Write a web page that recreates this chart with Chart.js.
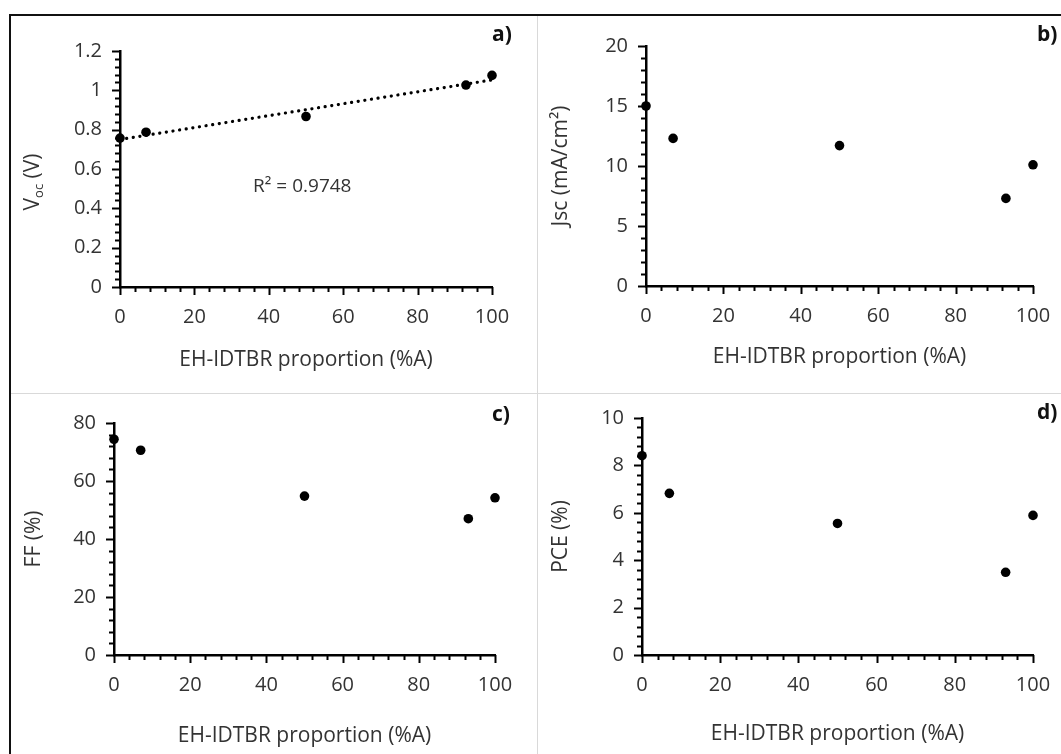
<!DOCTYPE html>
<html>
<head>
<meta charset="utf-8">
<script src="https://cdn.jsdelivr.net/npm/chart.js@4.4.1/dist/chart.umd.min.js"></script>
<style>
  body { margin: 0; background: #fff; }
  #fig { position: relative; width: 1061px; height: 754px; overflow: hidden; background: #fff; font-family: "Open Sans", sans-serif; }
  #fig canvas { position: absolute; }
  .line { position: absolute; }
  .tag { position: absolute; font-weight: bold; font-size: 21px; color: #111; }
</style>
</head>
<body>
<div id="fig">
  <div class="line" style="left:9px;top:14px;width:1052px;height:2px;background:#111"></div>
  <div class="line" style="left:9px;top:14px;width:2px;height:740px;background:#111"></div>
  <div class="line" style="left:537px;top:16px;width:1px;height:738px;background:#d9d9d9"></div>
  <div class="line" style="left:11px;top:393px;width:1050px;height:1px;background:#d9d9d9"></div>
  <canvas id="pa" width="526" height="377" style="left:11px;top:16px"></canvas>
  <canvas id="pb" width="523" height="377" style="left:538px;top:16px"></canvas>
  <canvas id="pc" width="526" height="360" style="left:11px;top:394px"></canvas>
  <canvas id="pd" width="523" height="360" style="left:538px;top:394px"></canvas>
  <div class="tag" style="left:492px;top:19px">a)</div>
  <div class="tag" style="left:1037px;top:19px">b)</div>
  <div class="tag" style="left:492px;top:399px">c)</div>
  <div class="tag" style="left:1037px;top:397px">d)</div>
</div>
<script>
// EH-IDTBR proportion (%A)
const proportion = [0, 7, 50, 93, 100];
const voc = [0.757, 0.787, 0.867, 1.027, 1.076];
const jsc = [15.0, 12.3, 11.7, 7.3, 10.1];
const ff = [74.4, 70.6, 54.8, 47.0, 54.2];
const pce = [8.41, 6.82, 5.55, 3.49, 5.89];
// linear trend line for Voc at x = 0 and x = 100
const vocTrendX = [0, 100];
const vocTrendY = [0.75, 1.053];
const vocR2 = 'R² = 0.9748';
const xTitle = 'EH-IDTBR proportion (%A)';

Chart.defaults.font.family = '"Open Sans", sans-serif';
Chart.defaults.color = '#333';

function isMajor(v, step) {
  return Math.abs(v / step - Math.round(v / step)) < 1e-6;
}

// Excel style tick marks: long for major, short for minor, both outward
const tickMarks = {
  id: 'tickMarks',
  afterDraw(chart, args, opts) {
    const ctx = chart.ctx;
    ctx.save();
    ctx.strokeStyle = '#000';
    ctx.lineWidth = 2;
    ['x', 'y'].forEach(id => {
      const s = chart.scales[id];
      const major = opts[id];
      s.ticks.forEach(t => {
        const p = Math.round(s.getPixelForValue(t.value)) + 0.5;
        const len = isMajor(t.value, major) ? 8 : 5;
        ctx.beginPath();
        if (id === 'x') { ctx.moveTo(p, s.top); ctx.lineTo(p, s.top + len); }
        else { ctx.moveTo(s.right, p); ctx.lineTo(s.right - len, p); }
        ctx.stroke();
      });
    });
    ctx.restore();
  }
};

// extra text: R² note and the subscripted V_oc title
const extraText = {
  id: 'extraText',
  afterDraw(chart, args, opts) {
    const ctx = chart.ctx;
    ctx.save();
    ctx.fillStyle = '#333';
    if (opts.note) {
      const x = chart.scales.x.getPixelForValue(opts.note.x);
      const y = chart.scales.y.getPixelForValue(opts.note.y);
      ctx.font = '19px "Open Sans", sans-serif';
      ctx.textAlign = 'center';
      ctx.textBaseline = 'middle';
      ctx.fillText(opts.note.text, x, y);
    }
    if (opts.vocTitle) {
      const cy = (chart.chartArea.top + chart.chartArea.bottom) / 2 + 13;
      ctx.translate(22, cy);
      ctx.rotate(-Math.PI / 2);
      ctx.textBaseline = 'middle';
      ctx.textAlign = 'left';
      const big = '21px "Open Sans", sans-serif';
      const small = '13px "Open Sans", sans-serif';
      ctx.font = big;
      const w1 = ctx.measureText('V').width;
      ctx.font = small;
      const w2 = ctx.measureText('oc').width;
      ctx.font = big;
      const w3 = ctx.measureText(' (V)').width;
      let x = -(w1 + w2 + w3) / 2;
      ctx.fillText('V', x, 0); x += w1;
      ctx.font = small;
      ctx.fillText('oc', x, 6); x += w2;
      ctx.font = big;
      ctx.fillText(' (V)', x, 0);
    }
    ctx.restore();
  }
};

function makePanel(id, ys, cfg) {
  const datasets = [{
    type: 'scatter',
    data: proportion.map((x, i) => ({ x: x, y: ys[i] })),
    backgroundColor: '#000',
    borderWidth: 0,
    pointRadius: 4.8,
    clip: false,
    order: 1
  }];
  if (cfg.trend) {
    datasets.push({
      type: 'line',
      data: cfg.trend.x.map((x, i) => ({ x: x, y: cfg.trend.y[i] })),
      borderColor: '#000',
      borderWidth: 3.2,
      borderDash: [0.1, 6.6],
      borderCapStyle: 'round',
      pointRadius: 0,
      fill: false,
      clip: false,
      order: 2
    });
  }
  new Chart(document.getElementById(id), {
    type: 'scatter',
    data: { datasets: datasets },
    plugins: [tickMarks, extraText],
    options: {
      responsive: false,
      animation: false,
      devicePixelRatio: 1,
      layout: { padding: { left: 0, top: cfg.pad.top, right: cfg.pad.right, bottom: 0 } },
      plugins: {
        legend: { display: false },
        tooltip: { enabled: false },
        tickMarks: { x: 20, y: cfg.yMajor },
        extraText: { note: cfg.note, vocTitle: cfg.vocTitle }
      },
      scales: {
        x: {
          type: 'linear',
          min: 0, max: 100,
          grid: { display: false, drawTicks: false },
          border: { display: true, color: '#000', width: 2.5 },
          ticks: {
            stepSize: 4,
            autoSkip: false,
            maxRotation: 0,
            padding: 18,
            font: { size: 20 },
            callback: v => isMajor(v, 20) ? String(v) : ''
          },
          title: { display: true, text: xTitle, font: { size: 21 }, color: '#333', padding: { top: 0, bottom: cfg.xTitlePad } },
          afterFit: s => { s.height = cfg.xHeight; s.paddingLeft = 0; s.paddingRight = 0; }
        },
        y: {
          type: 'linear',
          min: 0, max: cfg.yMax,
          grid: { display: false, drawTicks: false },
          border: { display: true, color: '#000', width: 2.5 },
          ticks: {
            stepSize: cfg.yMajor / 5,
            autoSkip: false,
            padding: 18,
            font: { size: 20 },
            callback: v => isMajor(v, cfg.yMajor) ? String(Math.round(v * 10) / 10) : ''
          },
          title: { display: !!cfg.yTitle, text: cfg.yTitle || '', font: { size: 21 }, color: '#333', padding: { top: 10, bottom: 0 } },
          afterFit: s => { s.width = cfg.yWidth; s.paddingTop = 0; s.paddingBottom = 0; }
        }
      }
    }
  });
}

makePanel('pa', voc, {
  yMax: 1.2, yMajor: 0.2, yWidth: 109, xHeight: 106, xTitlePad: 20,
  pad: { top: 35, right: 45 },
  vocTitle: true,
  trend: { x: vocTrendX, y: vocTrendY },
  note: { x: 49, y: 0.51, text: vocR2 }
});
makePanel('pb', jsc, {
  yMax: 20, yMajor: 5, yWidth: 108, xHeight: 107, xTitlePad: 23,
  pad: { top: 30, right: 28 },
  yTitle: 'Jsc (mA/cm²)'
});
makePanel('pc', ff, {
  yMax: 80, yMajor: 20, yWidth: 103, xHeight: 99, xTitlePad: 5,
  pad: { top: 29, right: 42 },
  yTitle: 'FF (%)'
});
makePanel('pd', pce, {
  yMax: 10, yMajor: 2, yWidth: 104, xHeight: 99, xTitlePad: 7,
  pad: { top: 24, right: 28 },
  yTitle: 'PCE (%)'
});
</script>
</body>
</html>
